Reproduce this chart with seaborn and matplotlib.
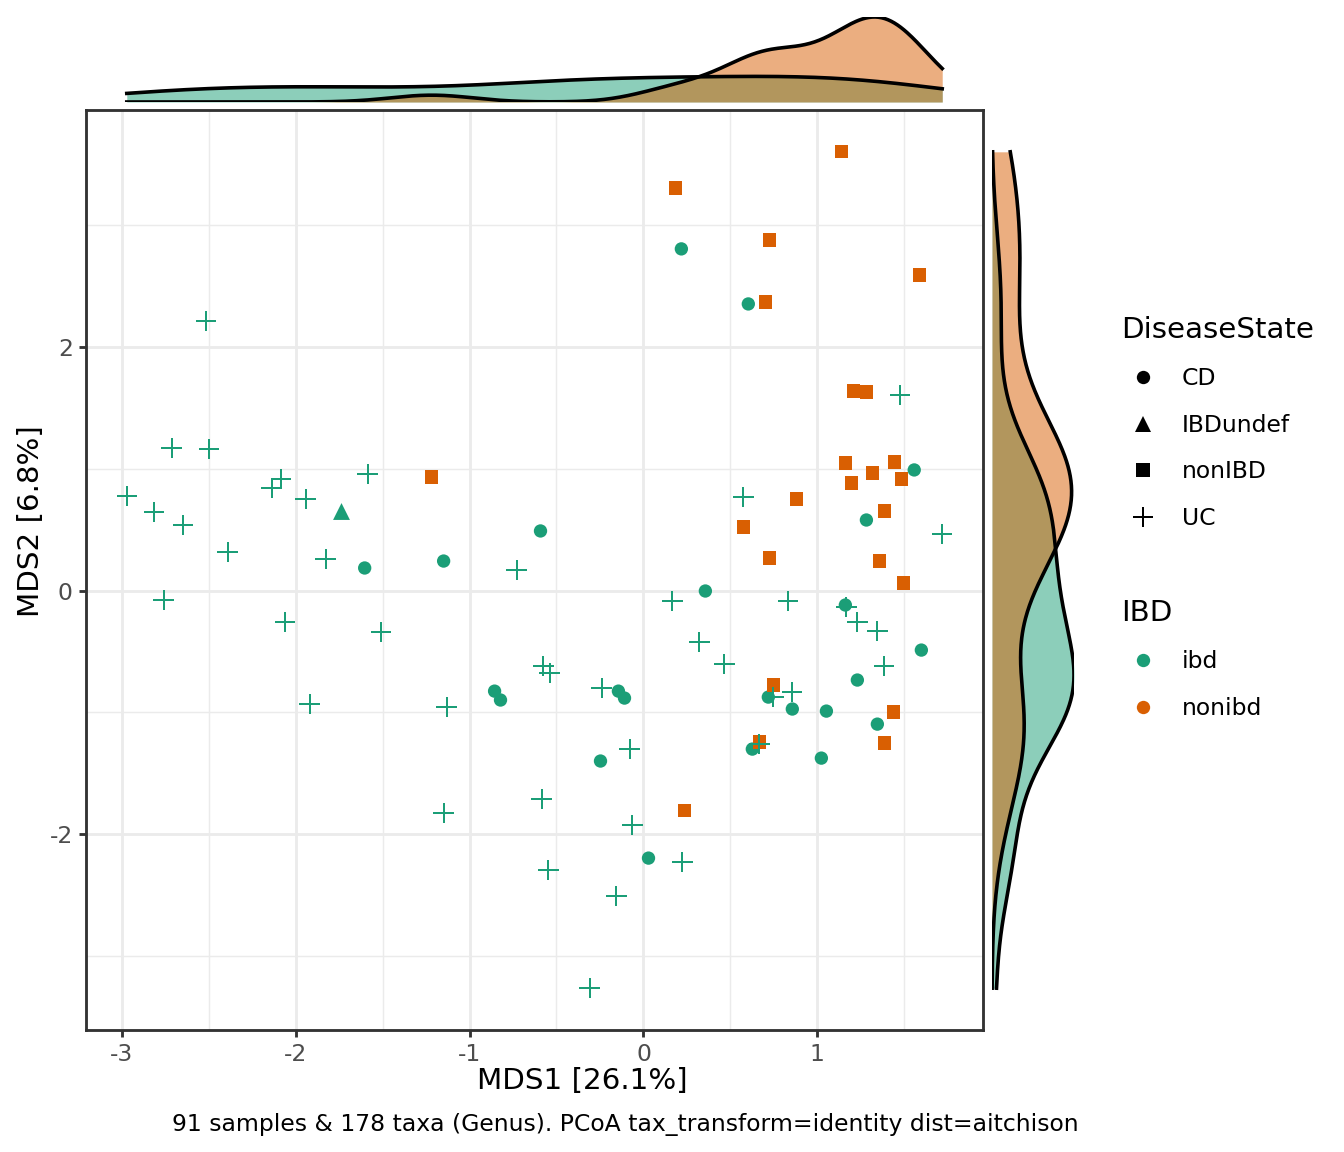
import numpy as np
import pandas as pd
import matplotlib
matplotlib.use("Agg")
import matplotlib.pyplot as plt
import seaborn as sns
from matplotlib.lines import Line2D
from matplotlib.ticker import AutoMinorLocator

# ---------------- data ----------------
uc_x = [-2.517, -2.713, -2.500, -2.971, -2.816, -2.649, -2.391, -2.759, -2.138, -2.086,
        -1.943, -1.828, -1.586, -2.063, -1.511, -1.920, -1.132, -1.149, -0.730, -0.575,
        -0.540, -0.241, -0.080, -0.586, -0.063, -0.546, -0.155, 0.224, -0.310, 0.167,
        0.322, 0.466, 0.833, 0.856, 0.747, 0.667, 1.167, 1.230, 1.345, 1.385,
        1.477, 1.718, 0.575]
uc_y = [2.214, 1.171, 1.163, 0.777, 0.645, 0.538, 0.316, -0.078, 0.842, 0.916,
        0.752, 0.259, 0.957, -0.259, -0.341, -0.932, -0.957, -1.828, 0.168, -0.620,
        -0.678, -0.801, -1.302, -1.713, -1.926, -2.296, -2.509, -2.230, -3.265, -0.086,
        -0.423, -0.604, -0.086, -0.834, -0.875, -1.261, -0.136, -0.259, -0.333, -0.620,
        1.606, 0.464, 0.768]

cd_x = [-1.603, -1.149, -0.856, -0.822, -0.592, -0.144, -0.109, -0.247, 0.029, 0.356,
        0.718, 0.856, 1.052, 0.626, 1.023, 1.161, 1.230, 1.345, 1.598, 0.218,
        0.603, 1.557, 1.282]
cd_y = [0.185, 0.242, -0.826, -0.899, 0.489, -0.826, -0.883, -1.400, -2.197, -0.004,
        -0.875, -0.973, -0.990, -1.302, -1.376, -0.119, -0.735, -1.097, -0.489, 2.805,
        2.353, 0.990, 0.579]

undef_x = [-1.741]
undef_y = [0.653]

non_x = [-1.218, 1.138, 0.184, 0.724, 1.586, 0.701, 1.207, 1.282, 1.161, 1.443,
         1.316, 1.483, 1.195, 1.385, 0.879, 0.575, 0.724, 1.356, 1.494, 0.747,
         0.667, 1.437, 1.385, 0.236]
non_y = [0.932, 3.602, 3.306, 2.879, 2.591, 2.370, 1.639, 1.630, 1.047, 1.055,
         0.965, 0.916, 0.883, 0.653, 0.752, 0.522, 0.267, 0.242, 0.062, -0.776,
         -1.244, -0.998, -1.253, -1.807]

state_levels = ["CD", "IBDundef", "nonIBD", "UC"]
ibd_levels = ["ibd", "nonibd"]
ibd_colors = ["#1B9E77", "#D95F02"]
x_ticks = [-3, -2, -1, 0, 1]
y_ticks = [-2, 0, 2]
x_title = "MDS1 [26.1%]"
y_title = "MDS2 [6.8%]"
caption = "91 samples & 178 taxa (Genus). PCoA tax_transform=identity dist=aitchison"

df = pd.concat([
    pd.DataFrame({"MDS1": cd_x, "MDS2": cd_y, "DiseaseState": "CD", "IBD": "ibd"}),
    pd.DataFrame({"MDS1": undef_x, "MDS2": undef_y, "DiseaseState": "IBDundef", "IBD": "ibd"}),
    pd.DataFrame({"MDS1": non_x, "MDS2": non_y, "DiseaseState": "nonIBD", "IBD": "nonibd"}),
    pd.DataFrame({"MDS1": uc_x, "MDS2": uc_y, "DiseaseState": "UC", "IBD": "ibd"}),
], ignore_index=True)

pal = dict(zip(ibd_levels, ibd_colors))

# ---------------- style ----------------
plt.rcParams["font.family"] = ["DejaVu Sans"]
plt.rcParams["axes.unicode_minus"] = False

W, H = 1344, 1152
fig = plt.figure(figsize=(7, 6), dpi=192)
fig.patch.set_facecolor("white")


def rect(l, t, r, b):
    return [l / W, 1 - b / H, (r - l) / W, (b - t) / H]


ax = fig.add_axes(rect(86, 110, 983, 1030))
axt = fig.add_axes(rect(86, 17, 983, 102))
axr = fig.add_axes(rect(992, 110, 1074, 1030))

# ---------------- scatter ----------------
marker_map = {"CD": "o", "IBDundef": "^", "nonIBD": "s", "UC": "+"}
size_map = {"CD": 25, "IBDundef": 40, "nonIBD": 25, "UC": 58}
for st in state_levels:
    sub = df[df["DiseaseState"] == st]
    if st == "UC":
        sns.scatterplot(data=sub, x="MDS1", y="MDS2", hue="IBD", palette=pal,
                        marker="+", s=size_map[st], linewidth=0.75, ax=ax,
                        legend=False, zorder=3)
    else:
        sns.scatterplot(data=sub, x="MDS1", y="MDS2", hue="IBD", palette=pal,
                        marker=marker_map[st], s=size_map[st], linewidth=0,
                        ax=ax, legend=False, zorder=3)

ax.margins(0.05)
ax.set_xticks(x_ticks)
ax.set_yticks(y_ticks)
ax.set_xticklabels([str(v) for v in x_ticks])
ax.set_yticklabels([str(v) for v in y_ticks])
ax.xaxis.set_minor_locator(AutoMinorLocator(2))
ax.yaxis.set_minor_locator(AutoMinorLocator(2))
ax.set_axisbelow(True)
ax.grid(which="major", color="#EBEBEB", linewidth=1.07)
ax.grid(which="minor", color="#EBEBEB", linewidth=0.53)
for sp in ax.spines.values():
    sp.set_color("#333333")
    sp.set_linewidth(1.07)
ax.tick_params(which="major", length=2.75, width=1.07, color="#333333",
               labelsize=8.8, labelcolor="#4D4D4D", pad=2.2)
ax.tick_params(which="minor", length=0)
ax.set_xlabel(x_title, fontsize=11, color="black")
ax.set_ylabel(y_title, fontsize=11, color="black")
ax.xaxis.set_label_coords(0.553, -0.040)
ax.yaxis.set_label_coords(-0.046, 0.553)

xlim = ax.get_xlim()
ylim = ax.get_ylim()


# ---------------- marginal densities ----------------
def nrd0(kde):
    x = np.asarray(kde.dataset).ravel()
    n = len(x)
    sd = np.std(x, ddof=1)
    q75, q25 = np.percentile(x, [75, 25])
    lo = min(sd, (q75 - q25) / 1.34)
    return 0.9 * lo * n ** (-0.2) / sd


xr = (df["MDS1"].min(), df["MDS1"].max())
yr = (df["MDS2"].min(), df["MDS2"].max())

for g in ibd_levels:
    sub = df[df["IBD"] == g]
    sns.kdeplot(x=sub["MDS1"], ax=axt, fill=True, color=pal[g], alpha=0.5,
                linewidth=0, bw_method=nrd0, cut=50, clip=xr, gridsize=512)
    sns.kdeplot(x=sub["MDS1"], ax=axt, color="black", linewidth=1.35,
                bw_method=nrd0, cut=50, clip=xr, gridsize=512)
    sns.kdeplot(y=sub["MDS2"], ax=axr, fill=True, color=pal[g], alpha=0.5,
                linewidth=0, bw_method=nrd0, cut=50, clip=yr, gridsize=512)
    sns.kdeplot(y=sub["MDS2"], ax=axr, color="black", linewidth=1.35,
                bw_method=nrd0, cut=50, clip=yr, gridsize=512)

tmax = max(np.max(l.get_ydata()) for l in axt.get_lines())
rmax = max(np.max(l.get_xdata()) for l in axr.get_lines())
axt.set_xlim(xlim)
axt.set_ylim(0, tmax)
axr.set_ylim(ylim)
axr.set_xlim(0, rmax)
axt.axis("off")
axr.axis("off")

# ---------------- legends ----------------
h1 = [Line2D([], [], linestyle="", marker=marker_map[s], color="black",
             markersize=(6.3 if s == "IBDundef" else (7.6 if s == "UC" else 5)),
             markeredgewidth=(0.75 if s == "UC" else 0)) for s in state_levels]
leg1 = fig.legend(h1, state_levels, title="DiseaseState", loc="upper left",
                  bbox_to_anchor=(1121 / W, 1 - 316 / H), frameon=False,
                  fontsize=8.8, title_fontsize=11, alignment="left",
                  handlelength=1.9, handletextpad=0.68, labelspacing=1.0,
                  borderpad=0, borderaxespad=0)
h2 = [Line2D([], [], linestyle="", marker="o", color=c, markersize=5,
             markeredgewidth=0) for c in ibd_colors]
leg2 = fig.legend(h2, ibd_levels, title="IBD", loc="upper left",
                  bbox_to_anchor=(1121 / W, 1 - 599 / H), frameon=False,
                  fontsize=8.8, title_fontsize=11, alignment="left",
                  handlelength=1.9, handletextpad=0.68, labelspacing=1.0,
                  borderpad=0, borderaxespad=0)

fig.text(625 / W, 1 - 1125 / H, caption, ha="center", va="center",
         fontsize=8.8, color="black")

fig.savefig("out.png", dpi=192, facecolor="white")
